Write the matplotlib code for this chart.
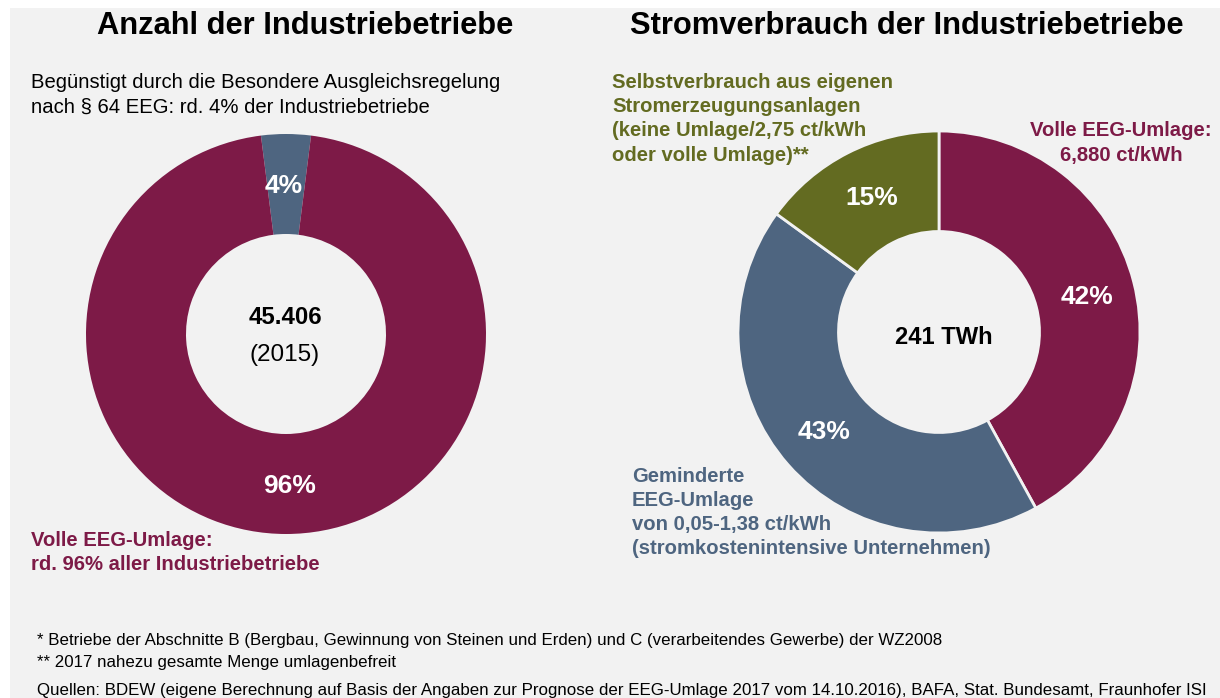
import matplotlib
matplotlib.use("Agg")
import matplotlib.pyplot as plt

W, H = 1220, 698
BG = "#F2F2F2"
MAROON = "#7D1A47"
BLUE = "#4E6580"
OLIVE = "#636B21"

# Data
left_labels = ["Begünstigt", "Volle EEG-Umlage"]
left_values = [4, 96]
left_colors = [BLUE, MAROON]
left_total = "45.406"
left_year = "(2015)"

right_labels = ["Volle EEG-Umlage", "Geminderte EEG-Umlage", "Selbstverbrauch"]
right_values = [42, 43, 15]
right_colors = [MAROON, BLUE, OLIVE]
right_total = "241 TWh"

plt.rcParams['font.family'] = ['Liberation Sans', 'DejaVu Sans']

fig = plt.figure(figsize=(W / 100, H / 100), dpi=100)
fig.patch.set_facecolor("white")

# gray panel
panel = fig.add_axes([10 / W, 0, 1 - 10 / W, 1 - 8 / H])
panel.set_facecolor(BG)
panel.set_xticks([]); panel.set_yticks([])
for s in panel.spines.values():
    s.set_visible(False)


def T(x, y, s, **kw):
    fig.text(x / W, 1 - y / H, s, **kw)


def donut_axes(cx, cy, R):
    ax = fig.add_axes([(cx - R) / W, 1 - (cy + R) / H, 2 * R / W, 2 * R / H])
    ax.set_facecolor("none")
    return ax


# Left donut
axL = donut_axes(286, 334, 200)
start_left = 90 - left_values[0] / 100 * 360 / 2
wl, _ = axL.pie(left_values, colors=left_colors, startangle=start_left,
                counterclock=True, radius=1,
                wedgeprops=dict(width=0.5, linewidth=0))
axL.set_xlim(-1, 1); axL.set_ylim(-1, 1); axL.set_aspect("equal"); axL.axis("off")

# Right donut
axR = donut_axes(939, 332, 201)
wr, _ = axR.pie(right_values, colors=right_colors, startangle=90,
                counterclock=False, radius=1,
                wedgeprops=dict(width=0.5, linewidth=2, edgecolor=BG))
axR.set_xlim(-1, 1); axR.set_ylim(-1, 1); axR.set_aspect("equal"); axR.axis("off")

FS = 14.6
PF = 19

# Titles
T(305, 26, "Anzahl der Industriebetriebe", fontsize=22.2, fontweight="bold",
  ha="center", va="center", color="black")
T(907, 26, "Stromverbrauch der Industriebetriebe", fontsize=22.2, fontweight="bold",
  ha="center", va="center", color="black")

# Left texts
T(31, 83, "Begünstigt durch die Besondere Ausgleichsregelung", fontsize=FS,
  ha="left", va="center", color="black")
T(31, 107, "nach § 64 EEG: rd. 4% der Industriebetriebe", fontsize=FS,
  ha="left", va="center", color="black")
T(284, 186, f"{left_values[0]}%", fontsize=PF, fontweight="bold", color="white",
  ha="center", va="center")
T(290, 486, f"{left_values[1]}%", fontsize=PF, fontweight="bold", color="white",
  ha="center", va="center")
T(285, 318, left_total, fontsize=17.3, fontweight="bold", color="black",
  ha="center", va="center")
T(285, 355, left_year, fontsize=17.5, color="black", ha="center", va="center")
T(31, 540, "Volle EEG-Umlage:", fontsize=FS, fontweight="bold", color=MAROON,
  ha="left", va="center")
T(31, 565, "rd. 96% aller Industriebetriebe", fontsize=FS, fontweight="bold",
  color=MAROON, ha="left", va="center")

# Right texts
olive_lines = ["Selbstverbrauch aus eigenen", "Stromerzeugungsanlagen",
               "(keine Umlage/2,75 ct/kWh", "oder volle Umlage)**"]
for i, s in enumerate(olive_lines):
    T(612, 82 + i * 24.5, s, fontsize=FS, fontweight="bold", color=OLIVE,
      ha="left", va="center")
T(1121, 131, "Volle EEG-Umlage:", fontsize=FS, fontweight="bold", color=MAROON,
  ha="center", va="center")
T(1121, 155, "6,880 ct/kWh", fontsize=FS, fontweight="bold", color=MAROON,
  ha="center", va="center")
blue_lines = ["Geminderte", "EEG-Umlage", "von 0,05-1,38 ct/kWh",
              "(stromkostenintensive Unternehmen)"]
for i, s in enumerate(blue_lines):
    T(632, 476 + i * 24.3, s, fontsize=FS, fontweight="bold", color=BLUE,
      ha="left", va="center")
T(872, 198, f"{right_values[2]}%", fontsize=PF, fontweight="bold", color="white",
  ha="center", va="center")
T(1087, 297, f"{right_values[0]}%", fontsize=PF, fontweight="bold", color="white",
  ha="center", va="center")
T(824, 432, f"{right_values[1]}%", fontsize=PF, fontweight="bold", color="white",
  ha="center", va="center")
T(944, 337, right_total, fontsize=17.1, fontweight="bold", color="black",
  ha="center", va="center")

# Footnotes
FN = 12.2
T(37, 641, "* Betriebe der Abschnitte B (Bergbau, Gewinnung von Steinen und Erden) und C (verarbeitendes Gewerbe) der WZ2008",
  fontsize=FN, color="black", ha="left", va="center")
T(37, 663, "** 2017 nahezu gesamte Menge umlagenbefreit",
  fontsize=FN, color="black", ha="left", va="center")
T(37, 690, "Quellen: BDEW (eigene Berechnung auf Basis der Angaben zur Prognose der EEG-Umlage 2017 vom 14.10.2016), BAFA, Stat. Bundesamt, Fraunhofer ISI",
  fontsize=FN, color="black", ha="left", va="center")

fig.savefig("out.png", dpi=100, facecolor=fig.get_facecolor())
